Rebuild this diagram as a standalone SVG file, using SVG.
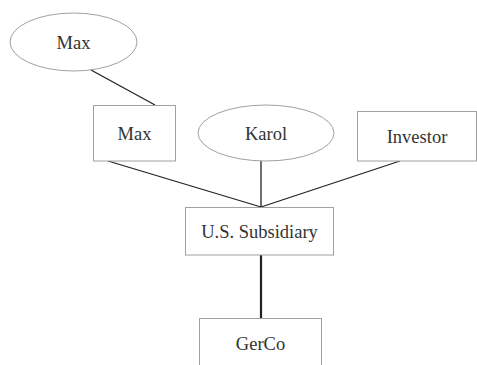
<svg xmlns="http://www.w3.org/2000/svg" width="477" height="365" viewBox="0 0 477 365">
<style>
.shape{fill:#fff;stroke:#a0a0a0;stroke-width:1}
.lbl{font-family:"Liberation Serif","Times New Roman",serif;font-size:18.5px;fill:#333;text-anchor:middle}
.edge{stroke:#222;stroke-width:1.3;fill:none}
</style>
<rect width="477" height="365" fill="#fff"/>
<g id="connectors">
<line class="edge" x1="91" y1="70" x2="155" y2="105"/>
<line class="edge" x1="108" y1="161" x2="261" y2="207"/>
<line class="edge" x1="261" y1="161" x2="261" y2="207"/>
<line class="edge" x1="400" y1="161" x2="261" y2="207"/>
<line class="edge" x1="261" y1="255" x2="261" y2="318" style="stroke-width:2.2"/>
</g>
<g id="max-owner">
<ellipse class="shape" cx="73.5" cy="42" rx="63.5" ry="29"/>
<text class="lbl" x="73.5" y="49">Max</text>
</g>
<g id="max">
<rect class="shape" x="93.5" y="105.5" width="82" height="55.5"/>
<text class="lbl" x="134.5" y="140">Max</text>
</g>
<g id="karol">
<ellipse class="shape" cx="266" cy="133" rx="68" ry="28"/>
<text class="lbl" x="266" y="140">Karol</text>
</g>
<g id="investor">
<rect class="shape" x="357.5" y="111.5" width="119" height="49.5"/>
<text class="lbl" x="417" y="143">Investor</text>
</g>
<g id="us-subsidiary">
<rect class="shape" x="185.5" y="207.5" width="148" height="47.5"/>
<text class="lbl" x="259.5" y="238">U.S. Subsidiary</text>
</g>
<g id="gerco">
<rect class="shape" x="199.5" y="318.5" width="122" height="60"/>
<text class="lbl" x="260.5" y="350">GerCo</text>
</g>
</svg>
